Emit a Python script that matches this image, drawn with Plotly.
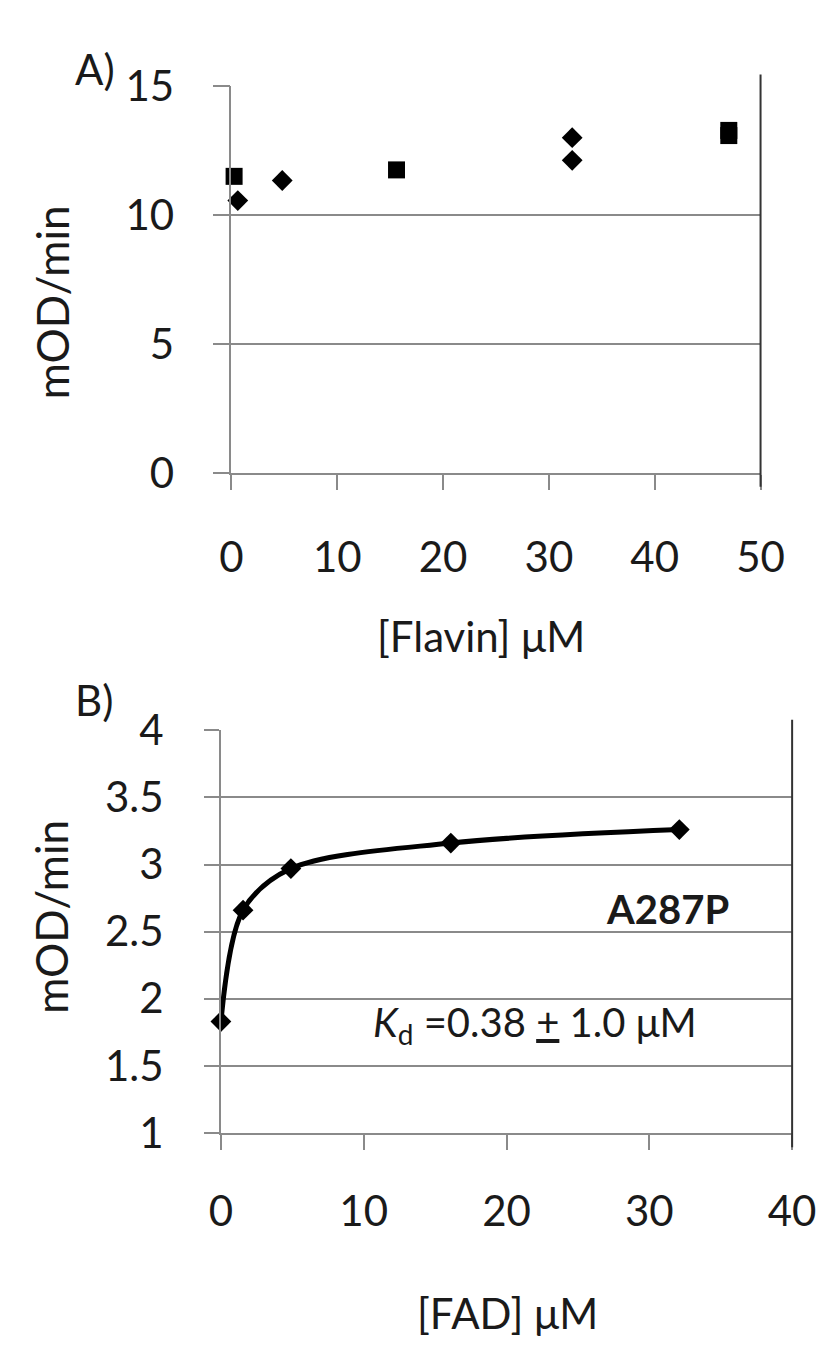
import plotly.graph_objects as go

# ---------------- data ----------------
# Panel A: [Flavin] (uM) vs rate (mOD/min)
a_square_x = [-0.1, 0.25, 15.6, 47.0, 47.0]
a_square_y = [11.85, 11.5, 11.75, 13.28, 13.08]
a_diamond_x = [0.6, 4.8, 32.2, 32.2]
a_diamond_y = [10.56, 11.34, 13.0, 12.12]

# Panel B: [FAD] (uM) vs rate (mOD/min), A287P
b_x = [0.0, 1.55, 4.9, 16.1, 32.1]
b_y = [1.83, 2.66, 2.97, 3.16, 3.26]

a_xticks = [0, 10, 20, 30, 40, 50]
a_yticks = [0, 5, 10, 15]
b_xticks = [0, 10, 20, 30, 40]
b_yticks = [1, 1.5, 2, 2.5, 3, 3.5, 4]
b_ytext = ["1", "1.5", "2", "2.5", "3", "3.5", "4"]

W, H = 833, 1355
FONT = "Lato, 'Open Sans', sans-serif"
GRID = "#8a8a8a"
TXT = "#1a1a1a"


def X(px):
    return px / W


def Y(py):
    return 1 - py / H


fig = go.Figure()

fig.add_trace(go.Scatter(x=a_square_x, y=a_square_y, mode="markers",
                         marker=dict(symbol="square", size=17, color="black"),
                         xaxis="x", yaxis="y", cliponaxis=False, showlegend=False))
fig.add_trace(go.Scatter(x=a_diamond_x, y=a_diamond_y, mode="markers",
                         marker=dict(symbol="diamond", size=16, color="black"),
                         xaxis="x", yaxis="y", cliponaxis=False, showlegend=False))
fig.add_trace(go.Scatter(x=b_x, y=b_y, mode="lines+markers",
                         line=dict(color="black", width=5, shape="spline", smoothing=0.9),
                         marker=dict(symbol="diamond", size=16, color="black"),
                         xaxis="x2", yaxis="y2", cliponaxis=False, showlegend=False))

axis_common = dict(
    showline=True, linecolor=GRID, linewidth=1.8,
    ticks="outside", tickcolor=GRID, tickwidth=1.8,
    zeroline=False,
    tickfont=dict(family=FONT, size=42, color=TXT),
    fixedrange=True,
)

fig.update_layout(
    width=W, height=H,
    margin=dict(l=0, r=0, t=0, b=0),
    paper_bgcolor="white", plot_bgcolor="white",
    font=dict(family=FONT, color=TXT),
    xaxis=dict(domain=[X(221), X(774)], range=[0, 50], tickvals=a_xticks,
               ticklen=15, showgrid=False, anchor="y", ticklabelstandoff=32,
               **axis_common),
    yaxis=dict(domain=[Y(456), Y(54)], range=[0, 15], tickvals=a_yticks,
               ticklen=17, showgrid=True, gridcolor=GRID, gridwidth=1.8,
               anchor="x", ticklabelstandoff=30, **axis_common),
    xaxis2=dict(domain=[X(210), X(807)], range=[0, 40], tickvals=b_xticks,
                ticklen=15, showgrid=False, anchor="y2", ticklabelstandoff=26,
                **axis_common),
    yaxis2=dict(domain=[Y(1141), Y(723)], range=[1, 4], tickvals=b_yticks,
                ticktext=b_ytext,
                ticklen=15, showgrid=True, gridcolor=GRID, gridwidth=1.8,
                anchor="x2", ticklabelstandoff=32, **axis_common),
)

# right border lines (Excel-style plot frame on right side)
fig.add_shape(type="line", xref="paper", yref="paper",
              x0=X(774), x1=X(774), y0=Y(470), y1=Y(42),
              line=dict(color="#333333", width=2))
fig.add_shape(type="line", xref="paper", yref="paper",
              x0=X(807), x1=X(807), y0=Y(1156), y1=Y(712),
              line=dict(color="#333333", width=2))

ann = []
ann.append(dict(text="A)", x=X(78), y=Y(36), font=dict(size=42)))
ann.append(dict(text="B)", x=X(77), y=Y(692), font=dict(size=42)))
ann.append(dict(text="mOD/min", x=X(33), y=Y(279), textangle=-90, font=dict(size=44)))
ann.append(dict(text="mOD/min", x=X(33), y=Y(917), textangle=-90, font=dict(size=44)))
ann.append(dict(text="[Flavin] μM", x=X(482), y=Y(625), font=dict(size=42)))
ann.append(dict(text="[FAD] μM", x=X(510), y=Y(1328), font=dict(size=42)))
ann.append(dict(text="<b>A287P</b>", x=31.3, y=2.67, xref="x2", yref="y2",
                font=dict(size=40)))
ann.append(dict(text="<i>K</i><sub>d</sub> =0.38 <u>+</u> 1.0 μM", x=22.0, y=1.81,
                xref="x2", yref="y2", font=dict(size=40)))

for a in ann:
    a.setdefault("xref", "paper")
    a.setdefault("yref", "paper")
    a["showarrow"] = False
    a["xanchor"] = "center"
    a["yanchor"] = "middle"
    a["font"] = dict(family=FONT, color=TXT, **a["font"])
    fig.add_annotation(**a)

fig.write_html("out.html")
